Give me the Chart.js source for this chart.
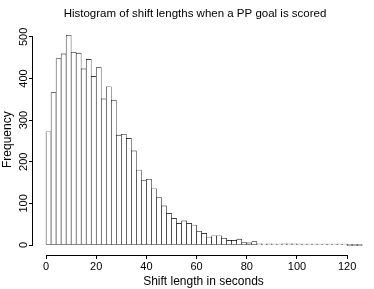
<!DOCTYPE html>
<html>
<head>
<meta charset="utf-8">
<script src="https://cdn.jsdelivr.net/npm/chart.js@4.4.1/dist/chart.umd.min.js"></script>
<style>
  html, body { margin: 0; padding: 0; background: #fff; }
  canvas { display: block; }
</style>
</head>
<body>
<canvas id="histChart" width="374" height="289"></canvas>
<script>
// bin left edges (seconds), each bin is 2 s wide
const binStarts = [0, 2, 4, 6, 8, 10, 12, 14, 16, 18, 20, 22, 24, 26, 28, 30, 32, 34, 36, 38,
    40, 42, 44, 46, 48, 50, 52, 54, 56, 58, 60, 62, 64, 66, 68, 70, 72, 74, 76, 78,
    80, 82, 84, 86, 88, 90, 92, 94, 96, 98, 100, 102, 104, 106, 108, 110, 112, 114, 116, 118,
    120, 122, 124];
const binWidth = 2;
const counts = [272, 366, 448, 459, 504, 463, 461, 423, 446, 405, 426, 351, 380, 348, 264, 266, 256, 226, 180, 155,
    158, 135, 114, 94, 76, 64, 52, 58, 52, 48, 33, 28, 19, 22, 22, 16, 11, 11, 14, 6,
    5, 8, 3, 1, 3, 2, 1, 3, 3, 3, 2, 1, 1, 1, 1, 1, 2, 1, 1, 1,
    0, 0, 0];
const xTicks = [0, 20, 40, 60, 80, 100, 120];
const yTicks = [0, 100, 200, 300, 400, 500];

Chart.defaults.font.family = "'Liberation Sans', Arial, sans-serif";
Chart.defaults.color = '#000';

// R-style axis lines that only span the first to last tick
const axisLines = {
    id: 'axisLines',
    afterDraw(chart) {
        const {ctx, chartArea, scales: {x, y}} = chart;
        ctx.save();
        ctx.strokeStyle = '#000';
        ctx.lineWidth = 1;
        ctx.beginPath();
        const by = Math.round(chartArea.bottom) + 0.5;
        ctx.moveTo(x.getPixelForValue(xTicks[0]), by);
        ctx.lineTo(x.getPixelForValue(xTicks[xTicks.length - 1]), by);
        const lx = Math.round(chartArea.left) - 0.5;
        ctx.moveTo(lx, y.getPixelForValue(yTicks[0]));
        ctx.lineTo(lx, y.getPixelForValue(yTicks[yTicks.length - 1]));
        ctx.stroke();
        ctx.restore();
    }
};

const ctx = document.getElementById('histChart').getContext('2d');
new Chart(ctx, {
    type: 'bar',
    data: {
        datasets: [{
            data: binStarts.map((s, i) => ({x: s + binWidth / 2, y: counts[i]})),
            backgroundColor: '#fff',
            borderColor: '#000',
            borderWidth: 0.6,
            borderSkipped: false,
            barPercentage: 1,
            categoryPercentage: 1,
            minBarLength: 1
        }]
    },
    options: {
        responsive: false,
        animation: false,
        devicePixelRatio: 1,
        layout: {padding: {left: 16, right: 0}},
        plugins: {
            legend: {display: false},
            tooltip: {enabled: false},
            title: {
                display: true,
                text: 'Histogram of shift lengths when a PP goal is scored',
                font: {size: 11.5, weight: 'normal'},
                color: '#000',
                padding: {top: 7, bottom: 3.6}
            }
        },
        scales: {
            x: {
                type: 'linear',
                min: -5.2,
                max: 130.7,
                offset: false,
                border: {display: false},
                grid: {drawOnChartArea: false, tickLength: 4, color: '#000', offset: false},
                ticks: {font: {size: 11}, padding: 1.5, maxRotation: 0, autoSkip: false},
                afterBuildTicks: s => { s.ticks = xTicks.map(v => ({value: v})); },
                afterFit: s => { s.height = 34; },
                title: {display: true, text: 'Shift length in seconds', font: {size: 12}, padding: {top: 0, bottom: 0.5}}
            },
            y: {
                min: -24,
                max: 530,
                border: {display: false},
                grid: {drawOnChartArea: false, tickLength: 4, color: '#000'},
                ticks: {font: {size: 11}, minRotation: 90, maxRotation: 90, crossAlign: 'center', padding: -4, autoSkip: false},
                afterBuildTicks: s => { s.ticks = yTicks.map(v => ({value: v})); },
                afterFit: s => { s.width = 17; },
                title: {display: true, text: 'Frequency', font: {size: 12}, padding: {top: -15.2, bottom: 0}}
            }
        }
    },
    plugins: [axisLines]
});
</script>
</body>
</html>
